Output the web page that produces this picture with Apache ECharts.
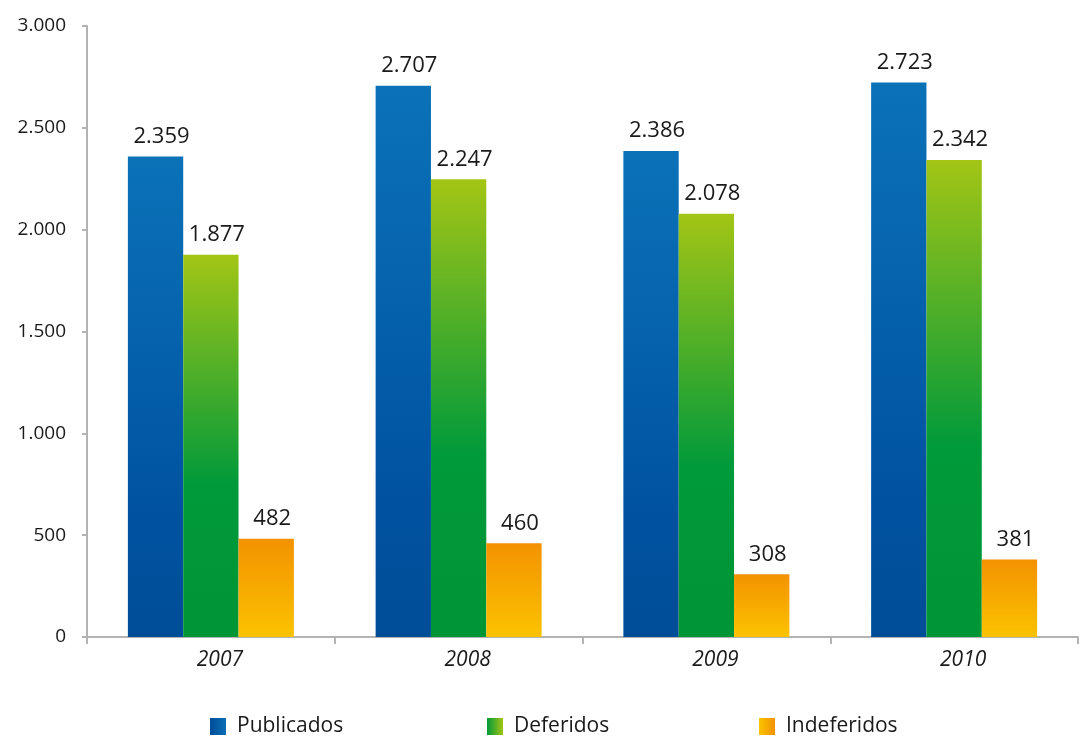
<!DOCTYPE html>
<html>
<head>
<meta charset="utf-8">
<style>
  html, body { margin: 0; padding: 0; background: #fff; }
  #chart { width: 1080px; height: 738px; }
</style>
<script src="https://cdn.jsdelivr.net/npm/echarts@6/dist/echarts.min.js"></script>
</head>
<body>
<div id="chart"></div>
<script>
// Patentes por ano
const years = ['2007', '2008', '2009', '2010'];
const publicados = [2359, 2707, 2386, 2723];
const deferidos = [1877, 2247, 2078, 2342];
const indeferidos = [482, 460, 308, 381];
const seriesNames = ['Publicados', 'Deferidos', 'Indeferidos'];

const FONT = '"Open Sans", "Noto Sans", sans-serif';

function fmt(v) {
  return String(v).replace(/\B(?=(\d{3})+(?!\d))/g, '.');
}

function grad(x2, y2, stops) {
  return new echarts.graphic.LinearGradient(0, 0, x2, y2,
    stops.map(s => ({ offset: s[0], color: s[1] })));
}

// vertical fills for the bars
const barColors = [
  grad(0, 1, [[0, '#0b72b8'], [0.75, '#0052a0'], [1, '#004d98']]),
  grad(0, 1, [[0, '#a3c515'], [0.6, '#009a3a'], [1, '#009535']]),
  grad(0, 1, [[0, '#f39200'], [1, '#fbc300']])
];
// horizontal fills for the legend swatches
const swatchColors = [
  grad(1, 0, [[0, '#004d98'], [1, '#0a6fb5']]),
  grad(1, 0, [[0, '#009a3a'], [1, '#a3c515']]),
  grad(1, 0, [[0, '#fbc300'], [1, '#f39200']])
];

const data = [publicados, deferidos, indeferidos];

const chart = echarts.init(document.getElementById('chart'));

const legendLeft = [205, 482, 754];

chart.setOption({
  animation: false,
  backgroundColor: '#ffffff',
  grid: { left: 87, right: 2, top: 26, bottom: 101 },
  legend: seriesNames.map((n, i) => ({
    data: [{ name: n, icon: 'rect', itemStyle: { color: swatchColors[i] } }],
    left: legendLeft[i],
    top: 711,
    itemWidth: 16,
    itemHeight: 17,
    itemGap: 0,
    textStyle: { fontFamily: FONT, fontSize: 21, color: '#1a1a1a', padding: [0, 0, 0, 6] }
  })),
  xAxis: {
    type: 'category',
    data: years,
    axisLine: { lineStyle: { color: '#b3b3b3', width: 2 } },
    axisTick: { show: true, length: 7, lineStyle: { color: '#b3b3b3', width: 2 } },
    axisLabel: {
      fontFamily: FONT, fontSize: 21, fontStyle: 'italic', color: '#1a1a1a',
      margin: 13, padding: [0, 0, 0, 18]
    }
  },
  yAxis: {
    type: 'value',
    min: 0,
    max: 3000,
    interval: 500,
    axisLine: { show: true, lineStyle: { color: '#b3b3b3', width: 2 } },
    axisTick: { show: true, length: 5, lineStyle: { color: '#b3b3b3', width: 2 } },
    splitLine: { show: false },
    axisLabel: {
      fontFamily: FONT, fontSize: 19, color: '#1a1a1a', margin: 21,
      formatter: v => fmt(v)
    }
  },
  series: seriesNames.map((n, i) => ({
    name: n,
    type: 'bar',
    data: data[i],
    barGap: '0%',
    barCategoryGap: '33%',
    itemStyle: { color: barColors[i] },
    label: {
      show: true,
      position: 'top',
      distance: 9,
      offset: [6, 0],
      fontFamily: FONT,
      fontSize: 22,
      color: '#1a1a1a',
      formatter: p => fmt(p.value)
    }
  }))
});
</script>
</body>
</html>
